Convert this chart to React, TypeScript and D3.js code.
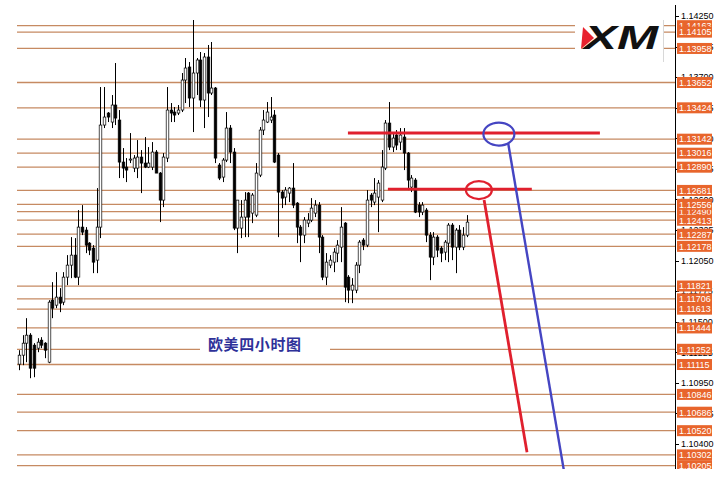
import React from 'react';
import * as d3 from 'd3';

const opens = [1.11118,1.11199,1.11307,1.11379,1.11289,1.11262,1.11334,1.11307,1.11136,1.11694,1.11649,1.11721,1.11676,1.11901,1.12009,1.12099,1.11901,1.12351,1.12324,1.12207,1.12162,1.12054,1.12351,1.13269,1.13377,1.13296,1.13449,1.13314,1.12936,1.12891,1.12954,1.12882,1.12882,1.12981,1.12927,1.12891,1.12891,1.13026,1.12837,1.12594,1.12972,1.13404,1.13386,1.13377,1.13404,1.13674,1.13791,1.13512,1.13737,1.13854,1.13494,1.13881,1.13557,1.13602,1.12909,1.12801,1.12954,1.13242,1.13026,1.12342,1.12342,1.12441,1.12657,1.12477,1.12459,1.12819,1.13224,1.13296,1.13314,1.13359,1.12999,1.12666,1.12621,1.12657,1.12702,1.12567,1.12351,1.12279,1.12387,1.12414,1.12477,1.12549,1.12261,1.11901,1.12009,1.12036,1.12117,1.12171,1.12387,1.11901,1.11784,1.11784,1.12009,1.12234,1.12189,1.12639,1.12576,1.12621,1.12594,1.12882,1.13287,1.13071,1.13179,1.13116,1.13161,1.13017,1.12711,1.12774,1.12549,1.12486,1.12504,1.12279,1.12081,1.12261,1.12162,1.12126,1.12207,1.12369,1.12171,1.12324,1.12171,1.12279];
const highs = [1.11244,1.11379,1.11532,1.11397,1.11307,1.11352,1.11361,1.11316,1.11694,1.11856,1.11946,1.11802,1.11946,1.12099,1.12261,1.12252,1.12504,1.12549,1.12351,1.12216,1.12189,1.12702,1.13611,1.13611,1.13386,1.13539,1.13827,1.13404,1.13062,1.12972,1.13197,1.12999,1.13134,1.13044,1.13161,1.13071,1.13116,1.13044,1.12846,1.13017,1.13611,1.13467,1.13431,1.13449,1.13737,1.13872,1.13836,1.14214,1.13872,1.13926,1.13917,1.13989,1.14016,1.13611,1.12927,1.12972,1.13386,1.13269,1.13062,1.12594,1.12594,1.12666,1.12666,1.12657,1.12927,1.13251,1.13404,1.13476,1.13521,1.13404,1.13017,1.12684,1.12711,1.12711,1.12927,1.12576,1.12369,1.12441,1.12477,1.12612,1.12594,1.12576,1.12279,1.12117,1.12099,1.12162,1.12234,1.12531,1.12396,1.11919,1.11892,1.12036,1.12234,1.12252,1.12684,1.12657,1.12792,1.12774,1.13044,1.13314,1.13476,1.13197,1.13224,1.13242,1.13242,1.13026,1.12819,1.12792,1.12576,1.12576,1.12522,1.12306,1.12306,1.12279,1.12180,1.12234,1.12387,1.12387,1.12342,1.12369,1.12351,1.12459];
const lows = [1.11064,1.11109,1.11136,1.10992,1.11001,1.11226,1.11262,1.11172,1.11127,1.11532,1.11622,1.11586,1.11649,1.11829,1.11892,1.11892,1.11829,1.12279,1.12117,1.12099,1.11937,1.11937,1.12252,1.13242,1.13296,1.13242,1.13269,1.12792,1.12792,1.12756,1.12927,1.12846,1.12792,1.12657,1.12882,1.12882,1.12864,1.12837,1.12396,1.12531,1.12936,1.13296,1.13296,1.13359,1.13386,1.13467,1.13431,1.13206,1.13539,1.13431,1.13242,1.13341,1.13539,1.12927,1.12774,1.12756,1.12936,1.12927,1.12324,1.12117,1.12252,1.12261,1.12261,1.12387,1.12441,1.12801,1.13179,1.13287,1.13287,1.12927,1.12261,1.12522,1.12549,1.12576,1.12522,1.12207,1.12036,1.12207,1.12351,1.12396,1.12441,1.12117,1.11874,1.11829,1.11982,1.11946,1.12036,1.12036,1.11676,1.11667,1.11667,1.11757,1.11937,1.12144,1.12171,1.12531,1.12549,1.12306,1.12576,1.12864,1.13044,1.13026,1.13044,1.13044,1.12864,1.12684,1.12666,1.12477,1.12441,1.12459,1.12216,1.11874,1.12009,1.12081,1.12036,1.12054,1.12036,1.12054,1.11937,1.12144,1.12144,1.12261];
const closes = [1.11199,1.11307,1.11379,1.11082,1.11082,1.11316,1.11289,1.11244,1.11676,1.11622,1.11721,1.11667,1.11901,1.12009,1.12099,1.11901,1.12351,1.12306,1.12189,1.12144,1.12036,1.12351,1.13269,1.13341,1.13341,1.13449,1.13332,1.12936,1.12882,1.12864,1.12963,1.12972,1.12981,1.12927,1.12891,1.12927,1.13026,1.12837,1.12594,1.12981,1.13404,1.13377,1.13359,1.13404,1.13674,1.13782,1.13512,1.13737,1.13854,1.13494,1.13881,1.13557,1.13602,1.12972,1.12792,1.12954,1.13242,1.13026,1.12342,1.12594,1.12441,1.12594,1.12441,1.12639,1.12837,1.13224,1.13314,1.13386,1.13341,1.12936,1.12666,1.12612,1.12684,1.12702,1.12549,1.12351,1.12279,1.12414,1.12414,1.12522,1.12549,1.12261,1.11901,1.12036,1.12054,1.12126,1.12189,1.12351,1.11811,1.11784,1.11829,1.12009,1.12216,1.12189,1.12594,1.12594,1.12657,1.12747,1.12891,1.13287,1.13071,1.13152,1.13089,1.13179,1.13017,1.12774,1.12792,1.12486,1.12486,1.12549,1.12279,1.12081,1.12261,1.12144,1.12117,1.12216,1.12369,1.12171,1.12324,1.12171,1.12279,1.12396];

const levelPrices = [1.12490,1.14163,1.14105,1.13958,1.13652,1.13424,1.13142,1.13016,1.12890,1.12681,1.12556,1.12413,1.12287,1.12178,1.11821,1.11706,1.11613,1.11444,1.11252,1.11115,1.10846,1.10686,1.10520,1.10302,1.10205];
const tickPrices = [1.14250,1.13975,1.13700,1.13425,1.13150,1.12875,1.12600,1.12325,1.12050,1.11775,1.11500,1.11225,1.10950,1.10675,1.10400];

const title = '欧美四小时图';

// annotations in data space [candle index, price]
const redLevelA = [[88.9, 1.13197], [157, 1.13197]];
const redLevelB = [[99.7, 1.12693], [138.6, 1.12693]];
const redArrow = [[125.7, 1.12594], [137.3, 1.10326]];
const blueArrow = [[132.2, 1.13107], [148.1, 1.09999]];
const redCircle = [124.3, 1.12684];
const blueCircle = [129.7, 1.13188];

const W = 726, H = 494;
const LINE = '#c68a62';
const LABEL = '#e8652c';
const RED = '#e0202e';
const BLUE = '#4545c2';

export default function App() {
  const x = d3.scaleLinear().domain([0, 121]).range([19, 466.7]);
  const y = d3.scaleLinear().domain([1.104, 1.1425]).range([444, 16]);
  const line = d3.line<number[]>().x(d => x(d[0])).y(d => y(d[1]));
  const fmt = d3.format('.5f');
  const axisX = 675;
  const bw = 2.6;

  return (
    <svg width={W} height={H} style={{ position: 'absolute', left: 0, top: 0, background: '#fff' }}
      fontFamily="'Liberation Sans', Arial, sans-serif">
      <defs>
        <clipPath id="clip"><rect x={0} y={0} width={W} height={469} /></clipPath>
      </defs>
      <rect x={0} y={0} width={W} height={H} fill="#fff" />
      <g clipPath="url(#clip)">
        {levelPrices.map((p, i) => (
          <line key={'l' + i} x1={17} x2={axisX} y1={y(p)} y2={y(p)} stroke={LINE} strokeWidth={1.3} />
        ))}
        {/* title gap */}
        <rect x={200} y={338} width={130} height={20} fill="#fff" />
        <text x={208} y={349.5} fontFamily="'Noto Sans CJK SC', sans-serif" fontSize={15} fontWeight={700}
          fill="#2e3199" letterSpacing={0.6}>{title}</text>
        {/* candles */}
        {opens.map((o, i) => {
          const c = closes[i];
          const cx = Math.round(x(i)) + 0.5;
          const up = c >= o;
          const top = y(Math.max(o, c));
          const bot = y(Math.min(o, c));
          return (
            <g key={'c' + i}>
              <line x1={cx} x2={cx} y1={y(highs[i])} y2={y(lows[i])} stroke="#000" strokeWidth={1} />
              <rect x={cx - bw / 2} y={top} width={bw} height={Math.max(bot - top, 0.8)}
                fill={up ? '#fff' : '#000'} stroke="#000" strokeWidth={0.7} />
            </g>
          );
        })}
        {/* annotations */}
        <path d={line(redLevelA as any) || ''} stroke={RED} strokeWidth={3} fill="none" />
        <path d={line(redLevelB as any) || ''} stroke={RED} strokeWidth={2.6} fill="none" />
        <ellipse cx={x(blueCircle[0])} cy={y(blueCircle[1])} rx={15.5} ry={11.5} fill="none" stroke={BLUE} strokeWidth={2.2} />
        <ellipse cx={x(redCircle[0])} cy={y(redCircle[1])} rx={13} ry={9} fill="none" stroke={RED} strokeWidth={2.2} />
        <path d={line(redArrow as any) || ''} stroke={RED} strokeWidth={2.8} fill="none" />
        <path d={line(blueArrow as any) || ''} stroke={BLUE} strokeWidth={2.4} fill="none" />
        {/* logo */}
        <rect x={575} y={18} width={88} height={44} fill="#fff" />
        <line x1={663.5} x2={663.5} y1={20} y2={62} stroke="#d8d8d8" strokeWidth={1} />
        <text x={584} y={49} fontFamily="'Liberation Sans', Arial, sans-serif" fontStyle="italic" fontWeight={900}
          fontSize={33} fill="#111" textLength={74} lengthAdjust="spacingAndGlyphs">XM</text>
        <polygon points="583,27 594,38 581,49" fill="#e8222e" />
        {/* axis */}
        <line x1={axisX + 0.5} x2={axisX + 0.5} y1={5} y2={469} stroke="#000" strokeWidth={1} />
        {tickPrices.map((p, i) => (
          <g key={'t' + i}>
            <line x1={axisX} x2={axisX + 4} y1={Math.round(y(p)) + 0.5} y2={Math.round(y(p)) + 0.5} stroke="#000" />
            <text x={681} y={y(p) + 3.3} fontSize={9} fill="#000">{fmt(p)}</text>
          </g>
        ))}
        {levelPrices.map((p, i) => (
          <g key={'b' + i}>
            <rect x={677} y={y(p) - 5.5} width={35} height={11} fill={LABEL} />
            <text x={679} y={y(p) + 3.3} fontSize={9} fill="#fff">{fmt(p)}</text>
          </g>
        ))}
      </g>
    </svg>
  );
}
